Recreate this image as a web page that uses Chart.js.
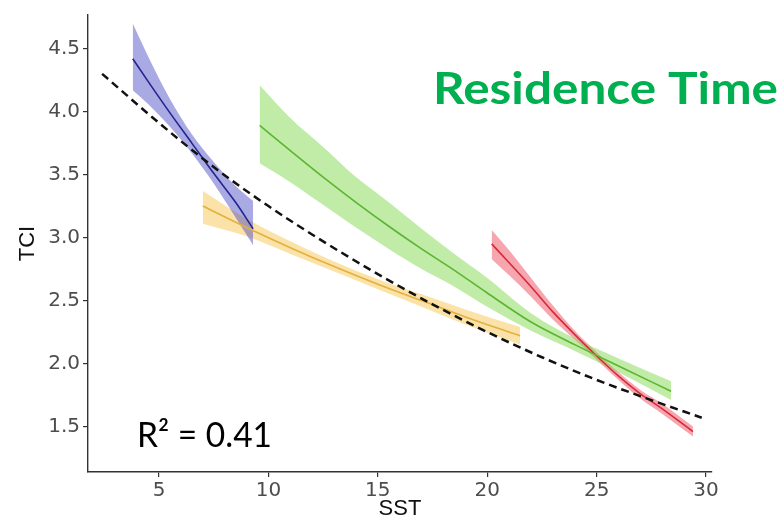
<!DOCTYPE html>
<html>
<head>
<meta charset="utf-8">
<script src="https://cdn.jsdelivr.net/npm/chart.js@4.4.1/dist/chart.umd.min.js"></script>
<style>
  html, body { margin: 0; background: #fff; }
  #wrap { width: 784px; height: 520px; position: relative; }
</style>
</head>
<body>
<div id="wrap"><canvas id="chart"></canvas></div>
<script>
const xTicks = [5, 10, 15, 20, 25, 30];
const yTicks = [1.5, 2.0, 2.5, 3.0, 3.5, 4.0, 4.5];

// overall fit (dashed)
const allX = [2.4, 5, 7.5, 10, 12.5, 15, 17.5, 20, 22.5, 25, 27.5, 29.8];
const allFit = [4.30, 3.91, 3.56, 3.25, 2.97, 2.71, 2.47, 2.25, 2.05, 1.87, 1.71, 1.57];

const blueX = [3.8, 4.5, 5.5, 6.5, 7.5, 8.5, 9.3];
const blueFit = [4.42, 4.24, 3.99, 3.75, 3.51, 3.28, 3.07];
const blueHi = [4.70, 4.44, 4.10, 3.82, 3.60, 3.41, 3.29];
const blueLo = [4.17, 4.06, 3.88, 3.67, 3.43, 3.16, 2.94];

const yellowX = [7, 9, 11, 13, 15, 17, 19, 21.5];
const yellowFit = [3.25, 3.08, 2.92, 2.77, 2.63, 2.50, 2.37, 2.22];
const yellowHi = [3.37, 3.15, 2.97, 2.81, 2.67, 2.55, 2.43, 2.29];
const yellowLo = [3.11, 3.01, 2.87, 2.73, 2.59, 2.45, 2.31, 2.15];

const greenX = [9.6, 11, 12.5, 14, 15.5, 17, 18.5, 20, 22, 24, 26, 28.4];
const greenFit = [3.89, 3.69, 3.48, 3.28, 3.09, 2.91, 2.74, 2.56, 2.33, 2.15, 1.98, 1.78];
const greenHi = [4.21, 3.95, 3.72, 3.48, 3.28, 3.07, 2.87, 2.68, 2.40, 2.20, 2.04, 1.86];
const greenLo = [3.59, 3.44, 3.26, 3.08, 2.91, 2.75, 2.61, 2.45, 2.26, 2.10, 1.93, 1.71];

const redX = [20.2, 21, 22, 23, 24, 25, 26, 27, 28, 29.4];
const redFit = [2.95, 2.80, 2.61, 2.41, 2.23, 2.06, 1.90, 1.76, 1.64, 1.46];
const redHi = [3.06, 2.90, 2.68, 2.46, 2.26, 2.09, 1.93, 1.79, 1.68, 1.50];
const redLo = [2.83, 2.70, 2.53, 2.35, 2.19, 2.03, 1.87, 1.72, 1.60, 1.42];

const GROUPS = [
  { x: blueX, fit: blueFit, hi: blueHi, lo: blueLo, line: '#25258f', band: 'rgba(83,83,199,0.5)' },
  { x: yellowX, fit: yellowFit, hi: yellowHi, lo: yellowLo, line: '#e3b13f', band: 'rgba(247,197,81,0.5)' },
  { x: greenX, fit: greenFit, hi: greenHi, lo: greenLo, line: '#5cb530', band: 'rgba(129,217,81,0.5)' },
  { x: redX, fit: redFit, hi: redHi, lo: redLo, line: '#d8293a', band: 'rgba(237,77,93,0.5)' },
];

function pts(xs, ys) {
  return xs.map((x, i) => ({ x, y: ys[i] }));
}

const base = { pointRadius: 0, pointHoverRadius: 0, cubicInterpolationMode: 'monotone' };

const datasets = [{
  ...base,
  data: pts(allX, allFit),
  borderColor: '#111',
  borderWidth: 2.5,
  borderDash: [8, 5],
  fill: false,
  order: 0,
}];

GROUPS.forEach(g => {
  datasets.push({ ...base, data: pts(g.x, g.hi), borderWidth: 0, backgroundColor: g.band, fill: '+1', order: 3 });
  datasets.push({ ...base, data: pts(g.x, g.lo), borderWidth: 0, fill: false, order: 3 });
  datasets.push({ ...base, data: pts(g.x, g.fit), borderColor: g.line, borderWidth: 1.6, fill: false, order: 1 });
});

function drawStretched(ctx, text, x, y, font, color, width) {
  ctx.save();
  ctx.font = font;
  ctx.fillStyle = color;
  ctx.textBaseline = 'alphabetic';
  ctx.textAlign = 'left';
  const w = ctx.measureText(text).width;
  ctx.translate(x, y);
  ctx.scale(width / w, 1);
  ctx.fillText(text, 0, 0);
  ctx.restore();
}

const notes = {
  id: 'notes',
  afterDraw(chart) {
    const ctx = chart.ctx;
    drawStretched(ctx, 'Residence Time', 433, 104, 'bold 44px Lato', '#00b050', 345);
    drawStretched(ctx, 'R² = 0.41', 137, 447, '35px Lato', '#000', 135);
  },
};

const tickFont = { family: 'DejaVu Sans', size: 20 };
const axisColor = '#333';

new Chart(document.getElementById('chart'), {
  type: 'line',
  data: { datasets },
  plugins: [notes],
  options: {
    responsive: true,
    maintainAspectRatio: false,
    animation: false,
    layout: { padding: { left: 0, top: 10, right: 72, bottom: 0 } },
    plugins: { legend: { display: false }, tooltip: { enabled: false } },
    scales: {
      x: {
        type: 'linear',
        min: 1.755,
        max: 30.27,
        afterFit: s => { s.height = 48; },
        afterBuildTicks: s => { s.ticks = xTicks.map(v => ({ value: v })); },
        ticks: { font: tickFont, color: '#4d4d4d', padding: 2, callback: v => String(v) },
        grid: { drawOnChartArea: false, drawTicks: true, tickLength: 5, color: axisColor, lineWidth: 1.2 },
        border: { display: true, color: axisColor, width: 1.4 },
        title: { display: true, text: 'SST', color: '#111', font: { family: 'Liberation Sans', size: 22, lineHeight: 1 }, padding: 0 },
      },
      y: {
        type: 'linear',
        min: 1.139,
        max: 4.767,
        afterFit: s => { s.width = 88; },
        afterBuildTicks: s => { s.ticks = yTicks.map(v => ({ value: v })); },
        ticks: { font: tickFont, color: '#4d4d4d', padding: 3, callback: v => v.toFixed(1) },
        grid: { drawOnChartArea: false, drawTicks: true, tickLength: 5, color: axisColor, lineWidth: 1.2 },
        border: { display: true, color: axisColor, width: 1.4 },
        title: { display: true, text: 'TCI', color: '#111', font: { family: 'Liberation Sans', size: 22, lineHeight: 1.2 }, padding: { top: 15, bottom: 0 } },
      },
    },
  },
});
</script>
</body>
</html>
